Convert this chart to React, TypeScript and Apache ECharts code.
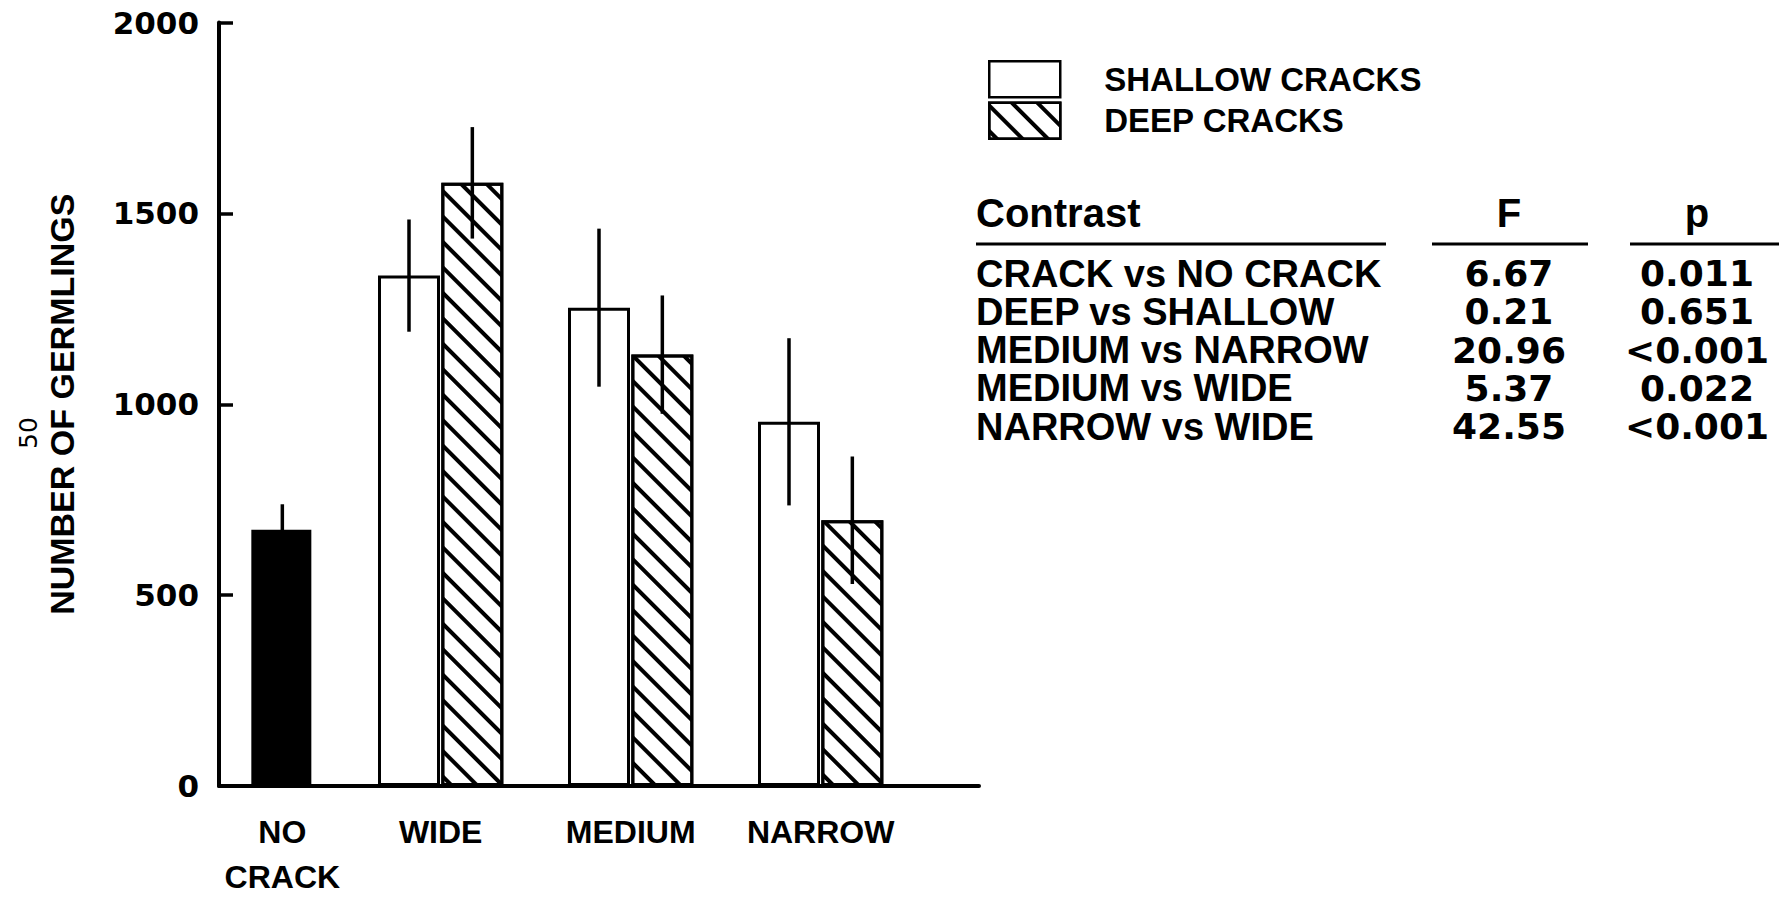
import { useEffect, useRef } from 'react';
import * as echarts from 'echarts';

// ---- data ----
const categories = ['NO\nCRACK', 'WIDE', 'MEDIUM', 'NARROW'];
const noCrackMean = [671];
const noCrackErr = [67];
const shallowMean = [1337, 1253, 954];
const shallowErr = [147, 207, 219];
const deepMean = [1580, 1130, 696];
const deepErr = [146, 155, 167];
const yTicks = [0, 500, 1000, 1500, 2000];
const legendNames = ['SHALLOW CRACKS', 'DEEP CRACKS'];
const tableHeader = ['Contrast', 'F', 'p'];
const contrasts = ['CRACK vs NO CRACK', 'DEEP vs SHALLOW', 'MEDIUM vs NARROW', 'MEDIUM vs WIDE', 'NARROW vs WIDE'];
const fValues = ['6.67', '0.21', '20.96', '5.37', '42.55'];
const pValues = ['0.011', '0.651', '<0.001', '0.022', '<0.001'];

// ---- layout (slot positions on a hidden value axis) ----
const noCrackSlot = 2;
const groupCenter = (i: number) => 7 + 6 * i;
const labelSlots: Record<number, string> = { [noCrackSlot]: categories[0] };
for (let i = 1; i < categories.length; i++) labelSlots[groupCenter(i - 1)] = categories[i];

export default function App() {
  const ref = useRef<HTMLDivElement>(null);
  useEffect(() => {
    if (!ref.current) return;
    const chart = echarts.init(ref.current, undefined, { renderer: 'svg' });

    const noCrackData = noCrackMean.map((m) => [noCrackSlot, m]);
    const shallowData = shallowMean.map((m, i) => [groupCenter(i) - 1, m]);
    const deepData = deepMean.map((m, i) => [groupCenter(i) + 1, m]);
    const errData = [
      ...noCrackMean.map((m, i) => [noCrackSlot, m, noCrackErr[i]]),
      ...shallowMean.map((m, i) => [groupCenter(i) - 1, m, shallowErr[i]]),
      ...deepMean.map((m, i) => [groupCenter(i) + 1, m, deepErr[i]]),
    ];

    const hatch = {
      symbol: 'rect',
      symbolSize: 1,
      color: '#000',
      backgroundColor: '#fff',
      dashArrayX: [1, 0],
      dashArrayY: [3.5, 14],
      rotation: Math.PI / 4,
    };

    const tableLeft = 976;
    const fX = 1509;
    const pX = 1697;
    const rowY0 = 273.5;
    const rowStep = 38.3;
    const graphics: any[] = [
      { type: 'text', x: tableLeft, y: 213, style: { text: tableHeader[0], fill: '#000', font: 'bold 40px "Liberation Sans"', textAlign: 'left', textVerticalAlign: 'middle' } },
      { type: 'text', x: fX, y: 213, style: { text: tableHeader[1], fill: '#000', font: 'bold 40px "Liberation Sans"', textAlign: 'center', textVerticalAlign: 'middle' } },
      { type: 'text', x: pX, y: 213, style: { text: tableHeader[2], fill: '#000', font: 'bold 40px "Liberation Sans"', textAlign: 'center', textVerticalAlign: 'middle' } },
      { type: 'line', shape: { x1: 976, y1: 244, x2: 1386, y2: 244 }, style: { stroke: '#000', lineWidth: 3 } },
      { type: 'line', shape: { x1: 1432, y1: 244, x2: 1588, y2: 244 }, style: { stroke: '#000', lineWidth: 3 } },
      { type: 'line', shape: { x1: 1630, y1: 244, x2: 1779, y2: 244 }, style: { stroke: '#000', lineWidth: 3 } },
      { type: 'text', x: 28, y: 433, rotation: Math.PI / 2, style: { text: '50', fill: '#000', font: '25px "DejaVu Sans"', textAlign: 'center', textVerticalAlign: 'middle' } },
    ];
    contrasts.forEach((c, i) => {
      const y = rowY0 + i * rowStep;
      graphics.push(
        { type: 'text', x: tableLeft, y, style: { text: c, fill: '#000', font: 'bold 38px "Liberation Sans"', textAlign: 'left', textVerticalAlign: 'middle' } },
        { type: 'text', x: fX, y, style: { text: fValues[i], fill: '#000', font: 'bold 36px "DejaVu Sans"', textAlign: 'center', textVerticalAlign: 'middle' } },
        { type: 'text', x: pX, y, style: { text: pValues[i], fill: '#000', font: 'bold 36px "DejaVu Sans"', textAlign: 'center', textVerticalAlign: 'middle' } },
      );
    });

    chart.setOption({
      animation: false,
      backgroundColor: '#fff',
      grid: { left: 219, top: 22.5, right: 800, bottom: 99.5, containLabel: false },
      legend: {
        orient: 'vertical',
        left: 983,
        top: 55,
        itemWidth: 71,
        itemHeight: 36,
        itemGap: 3,
        selectedMode: false,
        data: legendNames.map((n) => ({ name: n, icon: 'rect' })),
        itemStyle: { borderColor: '#000', borderWidth: 2.5 },
        textStyle: { fontFamily: 'Liberation Sans', fontWeight: 'bold', fontSize: 33, color: '#000', padding: [0, 0, 0, 39] },
      },
      xAxis: {
        type: 'value',
        min: 0,
        max: 24,
        interval: 1,
        splitLine: { show: false },
        axisTick: { show: false },
        axisLine: { show: true, lineStyle: { color: '#000', width: 4 } },
        axisLabel: {
          show: true,
          margin: 23,
          formatter: (v: number) => labelSlots[v] ?? '',
          fontFamily: 'Liberation Sans',
          fontWeight: 'bold',
          fontSize: 32,
          lineHeight: 45,
          color: '#000',
          showMinLabel: true,
          showMaxLabel: true,
        },
      },
      yAxis: {
        type: 'value',
        min: 0,
        max: 2000,
        interval: 500,
        splitLine: { show: false },
        axisLine: { show: true, lineStyle: { color: '#000', width: 4 } },
        axisTick: { show: true, inside: true, length: 14, lineStyle: { color: '#000', width: 3.5 } },
        axisLabel: {
          margin: 20,
          formatter: (v: number) => (yTicks.includes(v) ? String(v) : ''),
          fontFamily: 'DejaVu Sans',
          fontWeight: 'bold',
          fontSize: 31,
          color: '#000',
        },
        name: 'NUMBER OF GERMLINGS',
        nameLocation: 'middle',
        nameGap: 140,
        nameRotate: 90,
        nameTextStyle: { fontFamily: 'Liberation Sans', fontWeight: 'bold', fontSize: 34, color: '#000' },
      },
      series: [
        {
          name: 'NO CRACK',
          type: 'bar',
          barWidth: 60,
          barGap: '-100%',
          data: noCrackData,
          itemStyle: { color: '#000', borderColor: '#000', borderWidth: 3 },
          z: 2,
        },
        {
          name: legendNames[0],
          type: 'bar',
          barWidth: 62,
          barGap: '-100%',
          data: shallowData,
          itemStyle: { color: '#fff', borderColor: '#000', borderWidth: 3 },
          z: 2,
        },
        {
          name: legendNames[1],
          type: 'bar',
          barWidth: 62,
          barGap: '-100%',
          data: deepData,
          itemStyle: { color: '#fff', borderColor: '#000', borderWidth: 3, decal: hatch },
          z: 2,
        },
        {
          name: 'error',
          type: 'custom',
          z: 5,
          data: errData,
          encode: { x: 0, y: 1 },
          renderItem: (params: any, api: any) => {
            const x = api.value(0);
            const m = api.value(1);
            const e = api.value(2);
            const top = api.coord([x, m + e]);
            const bot = api.coord([x, m - e]);
            return {
              type: 'line',
              shape: { x1: top[0], y1: top[1], x2: bot[0], y2: bot[1] },
              style: { stroke: '#000', lineWidth: 3.5 },
            };
          },
        },
      ],
      graphic: graphics,
    });
    return () => chart.dispose();
  }, []);
  return <div ref={ref} style={{ position: 'fixed', left: 0, top: 0, width: 1779, height: 899, background: '#fff' }} />;
}
